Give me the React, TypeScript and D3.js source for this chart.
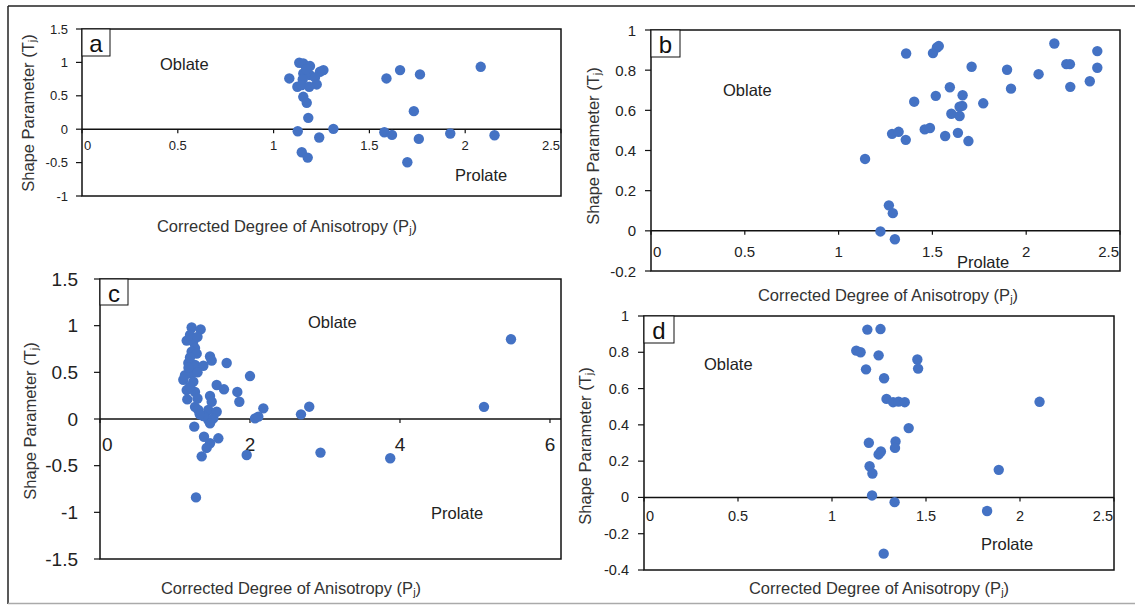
import React from "react";
import * as d3 from "d3";

// panel a
const aPj = [1.134, 1.155, 1.19, 1.26, 1.242, 1.082, 1.155, 1.19, 1.216, 1.152, 1.225, 1.124, 1.147, 1.186, 1.155, 1.173, 1.181, 1.126, 1.312, 1.238, 1.17,
  1.147, 1.178, 1.589, 1.66, 1.764, 2.081, 1.732, 1.578, 1.618, 1.758, 1.922, 2.153, 1.698];
const aTj = [0.995, 0.985, 0.945, 0.885, 0.86, 0.76, 0.835, 0.81, 0.775, 0.745, 0.67, 0.635, 0.66, 0.635, 0.485, 0.395, 0.17, -0.03, 0.005, -0.125, 0.9,
  -0.345, -0.425, 0.76, 0.885, 0.82, 0.934, 0.27, -0.045, -0.085, -0.145, -0.065, -0.09, -0.495];

// panel b
const bPj = [1.141, 1.36, 1.503, 1.524, 1.534, 1.403, 1.285, 1.32, 1.358, 1.518, 1.459, 1.487, 1.568, 1.593, 1.601, 1.645, 1.659, 1.645, 1.661,
  1.636, 1.692, 1.709, 1.771, 1.898, 1.919, 2.066, 2.15, 2.214, 2.233, 2.235, 2.339, 2.379, 2.379, 1.268, 1.289, 1.223, 1.3];
const bTj = [0.358, 0.883, 0.885, 0.913, 0.92, 0.643, 0.483, 0.493, 0.453, 0.672, 0.505, 0.512, 0.472, 0.715, 0.583, 0.572, 0.622, 0.618, 0.675,
  0.488, 0.447, 0.817, 0.635, 0.802, 0.708, 0.78, 0.933, 0.83, 0.83, 0.717, 0.745, 0.895, 0.812, 0.127, 0.088, -0.003, -0.042];

// panel c
const cPj = [1.222, 1.342, 1.156, 1.244, 1.267, 1.222, 1.289, 1.467, 1.489, 1.689, 1.178, 1.267, 1.378, 1.133, 1.222, 2.0, 1.111, 1.244, 1.556,
  1.653, 1.156, 1.267, 1.831, 1.858, 1.164, 1.467, 1.489, 1.267, 1.311, 1.444, 1.556, 2.178, 2.067, 2.111, 1.444, 1.511, 1.467, 1.378, 1.257,
  1.387, 1.578, 1.467, 1.422, 1.356, 1.956, 1.28, 2.68, 2.79, 2.94, 3.87, 5.12, 5.48,
  1.2, 1.3, 1.18, 1.3, 1.2, 1.3, 1.33, 1.2];
const cTj = [0.98, 0.96, 0.84, 0.83, 0.76, 0.72, 0.7, 0.67, 0.625, 0.6, 0.6, 0.58, 0.57, 0.47, 0.49, 0.46, 0.42, 0.4, 0.364,
  0.318, 0.31, 0.29, 0.29, 0.185, 0.21, 0.246, 0.185, 0.13, 0.096, 0.096, 0.078, 0.114, 0.007, 0.025, -0.01, 0.007, -0.046, 0.032, -0.082,
  -0.19, -0.207, -0.26, -0.31, -0.4, -0.386, -0.84, 0.05, 0.132, -0.36, -0.42, 0.13, 0.854,
  0.9, 0.88, 0.55, 0.5, 0.35, 0.22, 0.05, 0.66];

// panel d
const dPj = [1.188, 1.258, 1.129, 1.152, 1.248, 1.181, 1.277, 1.454, 1.458, 1.29, 1.325, 1.354, 1.387, 1.408, 1.196, 1.338, 1.335, 1.248,
  1.26, 1.2, 1.215, 1.213, 1.333, 1.825, 1.887, 2.104, 1.275];
const dTj = [0.925, 0.928, 0.809, 0.8, 0.783, 0.706, 0.657, 0.76, 0.71, 0.543, 0.525, 0.528, 0.525, 0.382, 0.301, 0.308, 0.273, 0.237,
  0.253, 0.172, 0.132, 0.011, -0.026, -0.075, 0.152, 0.527, -0.31];

const ticksX25 = [0, 0.5, 1, 1.5, 2, 2.5];
const ticksX6 = [0, 2, 4, 6];
const ticksYa = [-1, -0.5, 0, 0.5, 1, 1.5];
const ticksYb = [-0.2, 0, 0.2, 0.4, 0.6, 0.8, 1];
const ticksYc = [-1.5, -1, -0.5, 0, 0.5, 1, 1.5];
const ticksYd = [-0.4, -0.2, 0, 0.2, 0.4, 0.6, 0.8, 1];

const FONT = "'Liberation Sans', Arial, sans-serif";
const DOT = "#4472C4";

const panels = [
  { id: "a", xs: aPj, ys: aTj, x0: 82, x1: 561, y0: 29, y1: 196, xMax: 2.5, yMin: -1, yMax: 1.5, xTicks: ticksX25, yTicks: ticksYa,
    tf: 13, xlOff: 16, ylOff: 14, lw: 28, lh: 27, oblate: [160, 64], prolate: [455, 175], yt: [28, 113], xt: [287, 226] },
  { id: "b", xs: bPj, ys: bTj, x0: 651, x1: 1120, y0: 30, y1: 271, xMax: 2.5, yMin: -0.2, yMax: 1, xTicks: ticksX25, yTicks: ticksYb,
    tf: 15, xlOff: 21, ylOff: 15, lw: 29, lh: 27, oblate: [723, 90], prolate: [957, 262], yt: [593, 146], xt: [888, 295] },
  { id: "c", xs: cPj, ys: cTj, x0: 100, x1: 561, y0: 279, y1: 559, xMax: 6.147, yMin: -1.5, yMax: 1.5, xTicks: ticksX6, yTicks: ticksYc,
    tf: 19, xlOff: 25, ylOff: 22, lw: 28, lh: 26, oblate: [308, 322], prolate: [431, 513], yt: [30, 421], xt: [291, 588] },
  { id: "d", xs: dPj, ys: dTj, x0: 644, x1: 1114, y0: 316, y1: 570, xMax: 2.5, yMin: -0.4, yMax: 1, xTicks: ticksX25, yTicks: ticksYd,
    tf: 14.5, xlOff: 19, ylOff: 15, lw: 30, lh: 27, oblate: [704, 364], prolate: [981, 544], yt: [585, 446], xt: [879, 588] },
];

function Panel({ p }: { p: any }) {
  const x = d3.scaleLinear().domain([0, p.xMax]).range([p.x0, p.x1]);
  const y = d3.scaleLinear().domain([p.yMin, p.yMax]).range([p.y1, p.y0]);
  const fmt = (v: number) => String(+v.toFixed(2));
  const zy = y(0);
  return (
    <g fontFamily={FONT}>
      <rect x={p.x0} y={p.y0} width={p.x1 - p.x0} height={p.y1 - p.y0} fill="#fff" stroke="#111" strokeWidth={1.5} />
      {/* y axis ticks */}
      {p.yTicks.map((t: number) => (
        <g key={"y" + t}>
          <line x1={p.x0 - 6} x2={p.x0} y1={y(t)} y2={y(t)} stroke="#111" strokeWidth={1.2} />
          <text x={p.x0 - p.ylOff} y={y(t)} textAnchor="end" dominantBaseline="central" fontSize={p.tf} fill="#222">{fmt(t)}</text>
        </g>
      ))}
      {/* zero line with x ticks */}
      <line x1={p.x0} x2={p.x1} y1={zy} y2={zy} stroke="#111" strokeWidth={1.5} />
      {p.xTicks.map((t: number, i: number) => {
        const px = x(t);
        const anchor = i === 0 ? "start" : t >= p.xMax ? "end" : "middle";
        const lx = i === 0 ? px + 2 : t >= p.xMax ? px - 1 : px;
        return (
          <g key={"x" + t}>
            <line x1={px} x2={px} y1={zy} y2={zy + 4} stroke="#111" strokeWidth={1.2} />
            <text x={lx} y={zy + p.xlOff} textAnchor={anchor} dominantBaseline="central" fontSize={p.tf} fill="#222">{fmt(t)}</text>
          </g>
        );
      })}
      {p.xs.map((v: number, i: number) => (
        <circle key={i} cx={x(v)} cy={y(p.ys[i])} r={5.2} fill={DOT} />
      ))}
      <rect x={p.x0} y={p.y0} width={p.lw} height={p.lh} fill="#fff" stroke="#111" strokeWidth={1} />
      <text x={p.x0 + p.lw / 2} y={p.y0 + p.lh / 2 + 1} textAnchor="middle" dominantBaseline="central" fontSize={24} fill="#111">{p.id}</text>
      <text x={p.oblate[0]} y={p.oblate[1]} dominantBaseline="central" fontSize={16.5} fill="#222">Oblate</text>
      <text x={p.prolate[0]} y={p.prolate[1]} dominantBaseline="central" fontSize={16.5} fill="#222">Prolate</text>
      <text transform={`translate(${p.yt[0]},${p.yt[1]}) rotate(-90)`} textAnchor="middle" dominantBaseline="central" fontSize={16.5} fill="#333">
        Shape Parameter (T<tspan fontSize={11} dy={4}>j</tspan><tspan dy={-4}>)</tspan>
      </text>
      <text x={p.xt[0]} y={p.xt[1]} textAnchor="middle" dominantBaseline="central" fontSize={16.5} fill="#333">
        Corrected Degree of Anisotropy (P<tspan fontSize={11} dy={4}>j</tspan><tspan dy={-4}>)</tspan>
      </text>
    </g>
  );
}

export default function App() {
  return (
    <svg width={1135} height={605} style={{ position: "absolute", left: 0, top: 0, background: "#fff" }}>
      <rect x={0} y={0} width={1135} height={605} fill="#fff" />
      <line x1={8} x2={1135} y1={6} y2={6} stroke="#222" strokeWidth={1.5} />
      <line x1={8} x2={8} y1={6} y2={604} stroke="#222" strokeWidth={1.5} />
      <line x1={8} x2={1135} y1={603.5} y2={603.5} stroke="#aaa" strokeWidth={1.5} />
      {panels.map((p) => <Panel key={p.id} p={p} />)}
    </svg>
  );
}
